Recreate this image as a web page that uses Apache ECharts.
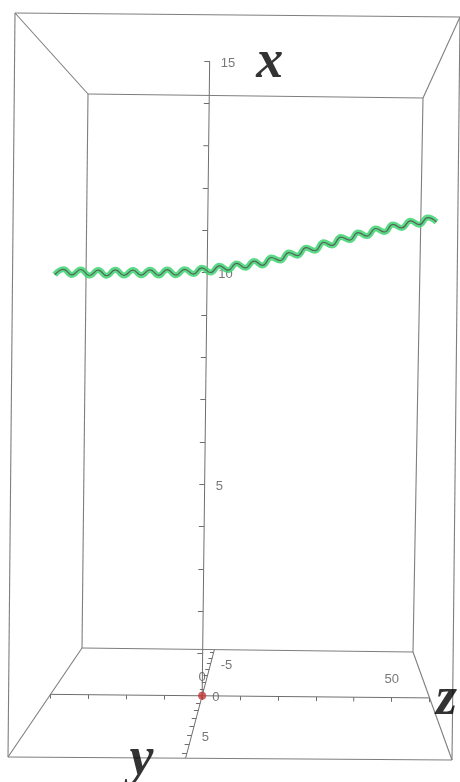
<!DOCTYPE html>
<html style="height: 100%; width: 100%">
<head>
  <meta charset="utf-8" />
  <style>
    html, body { margin: 0; background: #ffffff; }
    #chart-panel { width: 460px; height: 782px; }
  </style>
</head>
<body>
  <div id="chart-panel"></div>
  <script type="text/javascript" src="https://cdn.jsdelivr.net/npm/echarts@6/dist/echarts.min.js"></script>
  <script type="text/javascript">
    // plot box ranges (x up, y toward viewer, z to the right)
    var xRange = [0, 15];
    var yRange = [-7.5, 7.5];
    var zRange = [-40, 60];

    var xTicks = [1, 2, 3, 4, 5, 6, 7, 8, 9, 10, 11, 12, 13, 14, 15];
    var xLabels = [5, 10, 15];
    var yTicks = [-7, -6, -5, -4, -3, -2, -1, 0, 1, 2, 3, 4, 5, 6, 7];
    var yLabels = [-5, 0, 5];
    var zTicks = [-40, -30, -20, -10, 0, 10, 20, 30, 40, 50, 60];
    var zLabels = [0, 50];

    // helix, read at each crest / trough
    var helixZ = [-40, -37.7, -35.5, -33.2, -30.9, -28.6, -26.4, -24.1, -21.8, -19.5, -17.3, -15.0, -12.7,
      -10.5, -8.2, -5.9, -3.6, -1.4, 0.9, 3.2, 5.5, 7.7, 10.0, 12.3, 14.5, 16.8, 19.1, 21.4, 23.6, 25.9,
      28.2, 30.5, 32.7, 35.0, 37.3, 39.5, 41.8, 44.1, 46.4, 48.6, 50.9, 53.2, 55.5, 57.7, 60.0];
    var helixX = [9.915, 10.045, 9.915, 10.045, 9.905, 10.035, 9.905, 10.045, 9.915, 10.045, 9.925, 10.055,
      9.925, 10.065, 9.935, 10.075, 9.965, 10.115, 10.005, 10.165, 10.065, 10.225, 10.125, 10.285, 10.185,
      10.375, 10.305, 10.495, 10.425, 10.615, 10.545, 10.745, 10.675, 10.875, 10.805, 10.985, 10.905, 11.085,
      11.005, 11.185, 11.105, 11.275, 11.185, 11.355, 11.255];
    var helixY = 0;

    // screen corners of the back and front faces of the box
    var backFace = { bl: [82, 648], br: [413, 652], tl: [88, 94], tr: [423, 98] };
    var frontFace = { bl: [8, 757], br: [452, 760], tl: [15, 13], tr: [460, 17] };
    var depthK = 0.26;

    function facePoint(face, u, v) {
      var bx = face.bl[0] + (face.br[0] - face.bl[0]) * u;
      var by = face.bl[1] + (face.br[1] - face.bl[1]) * u;
      var tx = face.tl[0] + (face.tr[0] - face.tl[0]) * u;
      var ty = face.tl[1] + (face.tr[1] - face.tl[1]) * u;
      return [bx + (tx - bx) * v, by + (ty - by) * v];
    }

    function project(x, y, z) {
      var u = (z - zRange[0]) / (zRange[1] - zRange[0]);
      var v = (x - xRange[0]) / (xRange[1] - xRange[0]);
      var t = (y - yRange[0]) / (yRange[1] - yRange[0]);
      var w = t * (1 - depthK) / (1 - depthK * t);
      var b = facePoint(backFace, u, v);
      var f = facePoint(frontFace, u, v);
      return [b[0] + (f[0] - b[0]) * w, b[1] + (f[1] - b[1]) * w];
    }

    function seg(a, b) {
      return { coords: [project(a[0], a[1], a[2]), project(b[0], b[1], b[2])] };
    }

    // box edges
    var boxEdges = [];
    var X0 = xRange[0], X1 = xRange[1], Y0 = yRange[0], Y1 = yRange[1], Z0 = zRange[0], Z1 = zRange[1];
    [Y0, Y1].forEach(function (y) {
      boxEdges.push(seg([X0, y, Z0], [X0, y, Z1]));
      boxEdges.push(seg([X1, y, Z0], [X1, y, Z1]));
      boxEdges.push(seg([X0, y, Z0], [X1, y, Z0]));
      boxEdges.push(seg([X0, y, Z1], [X1, y, Z1]));
    });
    [[X0, Z0], [X0, Z1], [X1, Z0], [X1, Z1]].forEach(function (c) {
      boxEdges.push(seg([c[0], Y0, c[1]], [c[0], Y1, c[1]]));
    });

    // axes through the origin
    var axisLines = [
      seg([0, 0, 0], [X1, 0, 0]),
      seg([0, 0, Z0], [0, 0, Z1]),
      seg([0, Y0, 0], [0, Y1, 0])
    ];
    xTicks.forEach(function (v) { axisLines.push(seg([v, 0, 0], [v, 0, -1.4])); });
    zTicks.forEach(function (v) { axisLines.push(seg([0, 0, v], [-0.1, 0, v])); });
    yTicks.forEach(function (v) { axisLines.push(seg([0, v, 0], [0, v, -1.1])); });

    var helixData = helixZ.map(function (z, i) { return project(helixX[i], helixY, z); });

    function labelPoints(list, toPoint) {
      return list.map(function (v) { return { value: toPoint(v), name: String(v) }; });
    }

    var tickFont = { color: '#555555', fontSize: 13, fontFamily: 'Liberation Sans' };
    var titleFont = { show: true, position: 'inside', color: '#000000', fontSize: 54, fontWeight: 'bold',
      fontStyle: 'italic', fontFamily: 'Liberation Serif', formatter: '{b}' };

    var dom = document.getElementById('chart-panel');
    var myChart = echarts.init(dom);
    var option = {
      animation: false,
      grid: { left: 0, right: 0, top: 0, bottom: 0 },
      xAxis: { type: 'value', min: 0, max: 460, show: false },
      yAxis: { type: 'value', min: 0, max: 782, inverse: true, show: false },
      series: [
        {
          name: 'box',
          type: 'lines',
          coordinateSystem: 'cartesian2d',
          silent: true,
          lineStyle: { color: '#7e7e7e', width: 1.1, opacity: 1 },
          data: boxEdges
        },
        {
          name: 'axes',
          type: 'lines',
          coordinateSystem: 'cartesian2d',
          silent: true,
          lineStyle: { color: '#6e6e6e', width: 1, opacity: 1 },
          data: axisLines
        },
        {
          name: 'helix band',
          type: 'line',
          data: helixData,
          smooth: 0.5,
          showSymbol: false,
          silent: true,
          lineStyle: { color: '#3dd370', width: 6, opacity: 0.85 }
        },
        {
          name: 'helix',
          type: 'line',
          data: helixData,
          smooth: 0.5,
          showSymbol: false,
          silent: true,
          lineStyle: { color: '#56645c', width: 1.2 }
        },
        {
          name: 'origin',
          type: 'scatter',
          data: [project(0, 0, 0)],
          symbolSize: 8,
          silent: true,
          itemStyle: { color: '#c43a3a' }
        },
        {
          name: 'x labels',
          type: 'scatter',
          symbolSize: 0,
          silent: true,
          data: labelPoints(xLabels, function (v) { return project(v, 0, 0); }),
          label: Object.assign({ show: true, position: 'right', distance: 11, formatter: '{b}', offset: [0, 2] }, tickFont)
        },
        {
          name: 'y labels',
          type: 'scatter',
          symbolSize: 0,
          silent: true,
          data: labelPoints(yLabels, function (v) { return project(0, v, 0); }),
          label: Object.assign({ show: true, position: 'right', distance: 10, formatter: '{b}', offset: [0, 2] }, tickFont)
        },
        {
          name: 'z labels',
          type: 'scatter',
          symbolSize: 0,
          silent: true,
          data: labelPoints(zLabels, function (v) { return project(0, 0, v); }),
          label: Object.assign({ show: true, position: 'top', distance: 12, formatter: '{b}' }, tickFont)
        },
        {
          name: 'axis titles',
          type: 'scatter',
          symbolSize: 0,
          silent: true,
          data: [
            { value: project(X1, 0, 0), name: 'x', label: Object.assign({}, titleFont, { offset: [60, 2] }) },
            { value: project(0, Y1, 0), name: 'y', label: Object.assign({}, titleFont, { offset: [-44, 2] }) },
            { value: project(0, 0, Z1), name: 'z', label: Object.assign({}, titleFont, { offset: [17, 2] }) }
          ]
        }
      ]
    };
    myChart.setOption(option);
  </script>
</body>
</html>
